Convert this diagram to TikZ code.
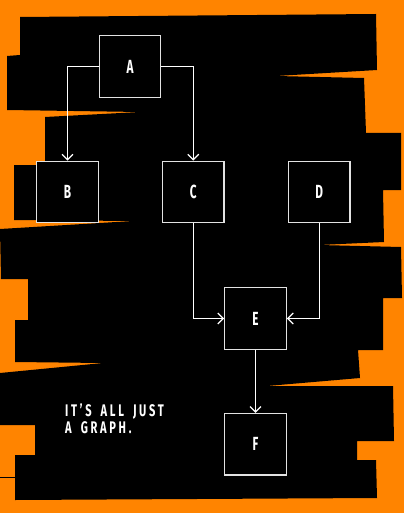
\documentclass[tikz,border=0pt]{standalone}
\usepackage{fontspec}
\usetikzlibrary{arrows.meta,positioning}
\newfontfamily\graphfont{Fira Sans}[FakeStretch=0.62]
\newfontfamily\slogfont{Fira Sans}[FakeStretch=0.66,LetterSpace=16,WordSpace=1.7]
\definecolor{bgorange}{HTML}{FF8400}
\definecolor{boxgrey}{HTML}{E2E2E2}
\tikzset{
  box/.style      = {draw=boxgrey, line width=1.3pt, fill=black, minimum size=61.5pt,
                     inner sep=0pt, text=white, font=\graphfont\bfseries\fontsize{19}{19}\selectfont},
  arr/.style      = {-{Straight Barb[length=5.5pt,width=11pt]}, draw=white, line width=1.2pt},
  node distance   = 63pt and 63pt,
  tag/.style      = {text=white, align=left, inner sep=0pt,
                     font=\slogfont\bfseries\fontsize{16.8}{16.8}\selectfont},
}
\begin{document}
\begin{tikzpicture}[x=1pt,y=-1pt]
  \useasboundingbox[fill=bgorange] (0,0) rectangle (404,513);
  \fill[black] (20,17) -- (376,14) -- (377,70) -- (276,76) -- (364,78) -- (366,133)
    -- (401,133) -- (401,190) -- (383,190) -- (384,242) -- (319,245) -- (401,247)
    -- (402,298) -- (383,298) -- (383,350) -- (358,350) -- (360,378) -- (267,386)
    -- (393,386) -- (394,441) -- (357,441) -- (357,460) -- (376,460) -- (377,498)
    -- (15,500) -- (15,455) -- (35,455) -- (35,425) -- (0,425) -- (0,373)
    -- (103,363) -- (15,362) -- (15,320) -- (28,320) -- (28,279) -- (1,279)
    -- (0,229) -- (133,221) -- (14,220) -- (14,165) -- (45,165) -- (45,117)
    -- (140,112) -- (7,110) -- (7,56) -- (20,55) -- cycle;
  \draw[black, line width=0.8pt] (0,477) -- (15,477);

  \node[box] (A) at (130,66.5) {A};
  \node[box] (B) at (67.5,192) {B};
  \node[box, right=of B] (C) {C};
  \node[box, right=of C] (D) {D};
  \node[box] (E) at (255.5,318.5) {E};
  \node[box, below=of E] (F) {F};

  \draw[arr] (A.west) -| (B.north);
  \draw[arr] (A.east) -| (C.north);
  \draw[arr] (C.south) |- (E.west);
  \draw[arr] (D.south) |- (E.east);
  \draw[arr] (E) -- (F);

  \node[tag, anchor=north west] (slogan) at (65,403) {IT’S ALL JUST\\[0.3pt]A GRAPH.};
\end{tikzpicture}
\end{document}
